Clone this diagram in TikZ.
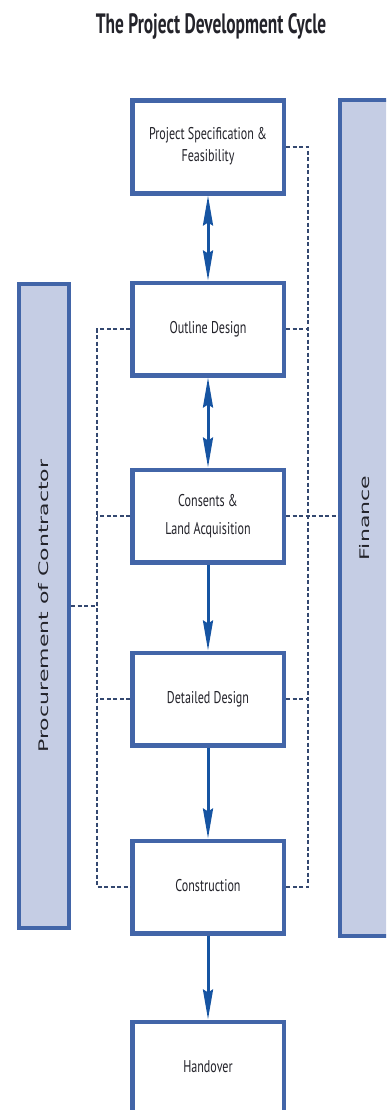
\documentclass[tikz,border=0pt]{standalone}
\usepackage{graphicx}
\usepackage{fontspec}
\setmainfont{PT Sans}
\newfontfamily\barfont{DejaVu Sans}
\usetikzlibrary{arrows.meta}

\definecolor{boxblue}{RGB}{66,101,168}
\definecolor{arrowblue}{RGB}{22,84,162}
\definecolor{barfill}{RGB}{197,205,228}
\definecolor{dashcol}{RGB}{52,72,112}
\definecolor{inkgray}{RGB}{35,35,42}

% the drawing is squeezed sideways, so is its text
\newcommand{\squeeze}[1]{\scalebox{0.71}[1]{\begin{tabular}{@{}c@{}}#1\end{tabular}}}
\newcommand{\flatten}[1]{\scalebox{1}[0.6]{#1}}

\tikzset{
  stage/.style={draw=boxblue, line width=4.5pt, fill=white, minimum width=151.5pt,
    minimum height=92.5pt, inner sep=0pt, text=inkgray, font=\fontsize{17}{20}\selectfont},
  sidebar/.style={draw=boxblue, line width=4pt, fill=barfill, rotate=90, inner sep=0pt,
    minimum height=50pt, text=inkgray, font=\barfont\fontsize{22}{24}\selectfont},
  flow/.style={draw=arrowblue, line width=3pt, -{Stealth[length=30pt,width=10pt,inset=3pt]}},
  twoway/.style={flow, {Stealth[length=30pt,width=10pt,inset=3pt]}-{Stealth[length=30pt,width=10pt,inset=3pt]}},
  link/.style={draw=dashcol, line width=1.2pt, dash pattern=on 4pt off 2.5pt}
}

\begin{document}
\begin{tikzpicture}[x=1pt,y=-1pt]
  \clip (0,0) rectangle (386,1110);
  \useasboundingbox (0,0) rectangle (386,1110);

  % title
  \node[text=inkgray, font=\fontsize{28}{30}\selectfont\bfseries] (title) at (211,26)
    {\scalebox{0.62}[1]{The Project Development Cycle}};

  % side bars
  \node[sidebar, minimum width=644pt] (proc) at (44,606) {\flatten{Procurement of Contractor}};
  \node[sidebar, minimum width=836pt] (fin) at (365,518) {\flatten{Finance}};

  % stages
  \node[stage] (spec) at (208,147) {\squeeze{Project Specification \&\\[2pt]Feasibility}};
  \node[stage] (outline) at (208,329) {\squeeze{Outline Design}};
  \node[stage] (consents) at (208,516) {\squeeze{Consents \&\\[8pt]Land Acquisition}};
  \node[stage] (detailed) at (208,699) {\squeeze{Detailed Design}};
  \node[stage] (construction) at (208,887) {\squeeze{Construction}};
  \node[stage] (handover) at (208,1068) {\squeeze{Handover}};

  % flow between stages
  \draw[twoway] (spec.south) -- (outline.north);
  \draw[twoway] (outline.south) -- (consents.north);
  \draw[flow] (consents.south) -- (detailed.north);
  \draw[flow] (detailed.south) -- (construction.north);
  \draw[flow] (construction.south) -- (handover.north);

  % dashed links to the side bars
  \coordinate (lrail) at (97,0);
  \coordinate (rrail) at (308,0);
  \draw[link] (spec.east) -| (construction.east -| rrail) -- (construction.east);
  \draw[link] (outline.east) -- (outline.east -| rrail);
  \draw[link] (detailed.east) -- (detailed.east -| rrail);
  \draw[link] (consents.east) -- (consents.east -| fin.north); % fin is turned, north is its left side
  \draw[link] (outline.west) -| (construction.west -| lrail) -- (construction.west);
  \draw[link] (consents.west) -- (consents.west -| lrail);
  \draw[link] (detailed.west) -- (detailed.west -| lrail);
  \draw[link] (proc.south) -- (proc.south -| lrail); % proc is turned, south is its right side
\end{tikzpicture}
\end{document}
